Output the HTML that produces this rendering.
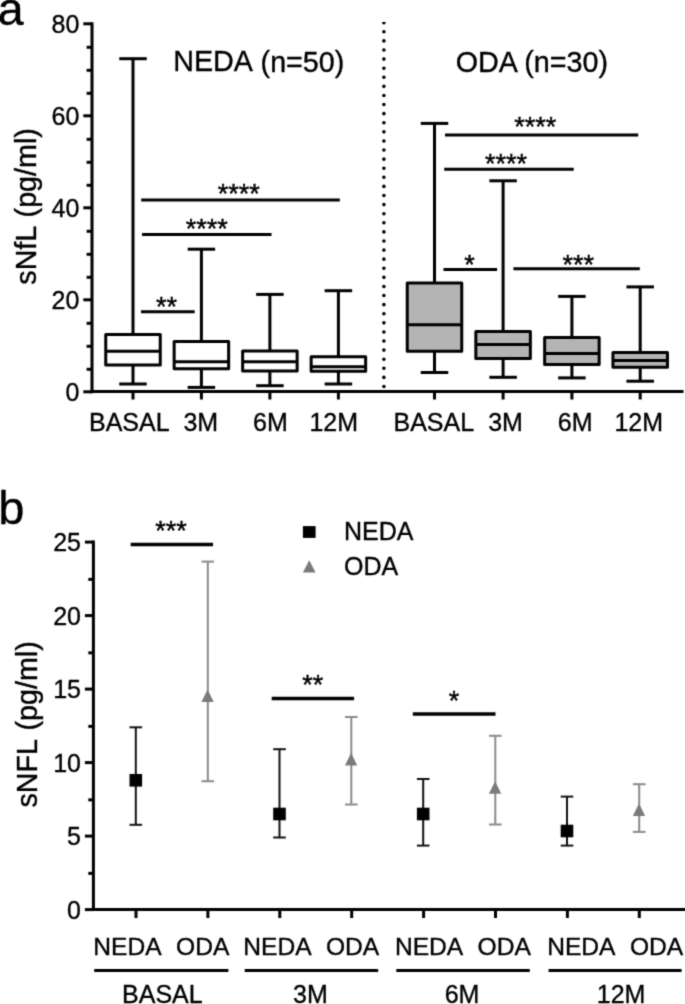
<!DOCTYPE html>
<html><head><meta charset="utf-8"><style>
html,body{margin:0;padding:0;background:#fff;width:685px;height:1004px;overflow:hidden}
svg{display:block;filter:grayscale(1)}
text{font-family:"Liberation Sans", sans-serif}
</style></head><body>
<svg width="685" height="1004" viewBox="0 0 685 1004">
<defs><filter id="cv" color-interpolation-filters="sRGB" x="0" y="0" width="100%" height="100%" filterUnits="userSpaceOnUse"><feConvolveMatrix order="3" kernelMatrix="0.06 0.2 0.06 0.2 1 0.2 0.06 0.2 0.06" divisor="2.04" edgeMode="duplicate"/></filter></defs><g filter="url(#cv)"><rect width="685" height="1004" fill="#fff"/><text x="-2.30" y="25.30" font-size="46.5" text-anchor="start" fill="#000" stroke="#000" stroke-width="0.35">a</text>
<line x1="92.00" y1="22.30" x2="92.00" y2="393.30" stroke="#000" stroke-width="3"/>
<line x1="83.30" y1="391.80" x2="92.00" y2="391.80" stroke="#000" stroke-width="3"/>
<text x="79.40" y="400.80" font-size="25" text-anchor="end" fill="#000" stroke="#000" stroke-width="0.35">0</text>
<line x1="86.60" y1="369.30" x2="92.00" y2="369.30" stroke="#000" stroke-width="3"/>
<line x1="86.60" y1="346.30" x2="92.00" y2="346.30" stroke="#000" stroke-width="3"/>
<line x1="86.60" y1="323.30" x2="92.00" y2="323.30" stroke="#000" stroke-width="3"/>
<line x1="83.30" y1="299.80" x2="92.00" y2="299.80" stroke="#000" stroke-width="3"/>
<text x="79.40" y="308.80" font-size="25" text-anchor="end" fill="#000" stroke="#000" stroke-width="0.35">20</text>
<line x1="86.60" y1="277.30" x2="92.00" y2="277.30" stroke="#000" stroke-width="3"/>
<line x1="86.60" y1="254.30" x2="92.00" y2="254.30" stroke="#000" stroke-width="3"/>
<line x1="86.60" y1="231.30" x2="92.00" y2="231.30" stroke="#000" stroke-width="3"/>
<line x1="83.30" y1="207.80" x2="92.00" y2="207.80" stroke="#000" stroke-width="3"/>
<text x="79.40" y="216.80" font-size="25" text-anchor="end" fill="#000" stroke="#000" stroke-width="0.35">40</text>
<line x1="86.60" y1="185.30" x2="92.00" y2="185.30" stroke="#000" stroke-width="3"/>
<line x1="86.60" y1="162.30" x2="92.00" y2="162.30" stroke="#000" stroke-width="3"/>
<line x1="86.60" y1="139.30" x2="92.00" y2="139.30" stroke="#000" stroke-width="3"/>
<line x1="83.30" y1="115.80" x2="92.00" y2="115.80" stroke="#000" stroke-width="3"/>
<text x="79.40" y="124.80" font-size="25" text-anchor="end" fill="#000" stroke="#000" stroke-width="0.35">60</text>
<line x1="86.60" y1="93.30" x2="92.00" y2="93.30" stroke="#000" stroke-width="3"/>
<line x1="86.60" y1="70.30" x2="92.00" y2="70.30" stroke="#000" stroke-width="3"/>
<line x1="86.60" y1="47.30" x2="92.00" y2="47.30" stroke="#000" stroke-width="3"/>
<line x1="83.30" y1="23.80" x2="92.00" y2="23.80" stroke="#000" stroke-width="3"/>
<text x="79.40" y="32.80" font-size="25" text-anchor="end" fill="#000" stroke="#000" stroke-width="0.35">80</text>
<line x1="90.50" y1="391.60" x2="683.50" y2="391.60" stroke="#000" stroke-width="3"/>
<line x1="133.00" y1="58.70" x2="133.00" y2="384.00" stroke="#000" stroke-width="3"/>
<line x1="119.25" y1="58.70" x2="146.75" y2="58.70" stroke="#000" stroke-width="3"/>
<line x1="119.25" y1="384.00" x2="146.75" y2="384.00" stroke="#000" stroke-width="3"/>
<rect x="105.75" y="334.6" width="54.5" height="30.30" fill="#fff" stroke="#000" stroke-width="3" stroke-linejoin="round"/>
<line x1="105.75" y1="351.30" x2="160.25" y2="351.30" stroke="#000" stroke-width="3"/>
<line x1="133.00" y1="391.60" x2="133.00" y2="399.50" stroke="#000" stroke-width="3"/>
<line x1="201.40" y1="249.20" x2="201.40" y2="387.40" stroke="#000" stroke-width="3"/>
<line x1="187.65" y1="249.20" x2="215.15" y2="249.20" stroke="#000" stroke-width="3"/>
<line x1="187.65" y1="387.40" x2="215.15" y2="387.40" stroke="#000" stroke-width="3"/>
<rect x="174.15" y="341.6" width="54.5" height="27.10" fill="#fff" stroke="#000" stroke-width="3" stroke-linejoin="round"/>
<line x1="174.15" y1="361.70" x2="228.65" y2="361.70" stroke="#000" stroke-width="3"/>
<line x1="201.40" y1="391.60" x2="201.40" y2="399.50" stroke="#000" stroke-width="3"/>
<line x1="269.90" y1="294.40" x2="269.90" y2="385.70" stroke="#000" stroke-width="3"/>
<line x1="256.15" y1="294.40" x2="283.65" y2="294.40" stroke="#000" stroke-width="3"/>
<line x1="256.15" y1="385.70" x2="283.65" y2="385.70" stroke="#000" stroke-width="3"/>
<rect x="242.65" y="351.1" width="54.5" height="20.00" fill="#fff" stroke="#000" stroke-width="3" stroke-linejoin="round"/>
<line x1="242.65" y1="361.70" x2="297.15" y2="361.70" stroke="#000" stroke-width="3"/>
<line x1="269.90" y1="391.60" x2="269.90" y2="399.50" stroke="#000" stroke-width="3"/>
<line x1="338.40" y1="290.70" x2="338.40" y2="384.00" stroke="#000" stroke-width="3"/>
<line x1="324.65" y1="290.70" x2="352.15" y2="290.70" stroke="#000" stroke-width="3"/>
<line x1="324.65" y1="384.00" x2="352.15" y2="384.00" stroke="#000" stroke-width="3"/>
<rect x="311.15" y="356.8" width="54.5" height="14.40" fill="#fff" stroke="#000" stroke-width="3" stroke-linejoin="round"/>
<line x1="311.15" y1="366.70" x2="365.65" y2="366.70" stroke="#000" stroke-width="3"/>
<line x1="338.40" y1="391.60" x2="338.40" y2="399.50" stroke="#000" stroke-width="3"/>
<line x1="434.50" y1="123.40" x2="434.50" y2="372.50" stroke="#000" stroke-width="3"/>
<line x1="420.75" y1="123.40" x2="448.25" y2="123.40" stroke="#000" stroke-width="3"/>
<line x1="420.75" y1="372.50" x2="448.25" y2="372.50" stroke="#000" stroke-width="3"/>
<rect x="407.25" y="282.9" width="54.5" height="68.30" fill="#b4b4b4" stroke="#000" stroke-width="3" stroke-linejoin="round"/>
<line x1="407.25" y1="324.80" x2="461.75" y2="324.80" stroke="#000" stroke-width="3"/>
<line x1="434.50" y1="391.60" x2="434.50" y2="399.50" stroke="#000" stroke-width="3"/>
<line x1="503.10" y1="180.80" x2="503.10" y2="377.30" stroke="#000" stroke-width="3"/>
<line x1="489.35" y1="180.80" x2="516.85" y2="180.80" stroke="#000" stroke-width="3"/>
<line x1="489.35" y1="377.30" x2="516.85" y2="377.30" stroke="#000" stroke-width="3"/>
<rect x="475.85" y="331.5" width="54.5" height="27.10" fill="#b4b4b4" stroke="#000" stroke-width="3" stroke-linejoin="round"/>
<line x1="475.85" y1="344.50" x2="530.35" y2="344.50" stroke="#000" stroke-width="3"/>
<line x1="503.10" y1="391.60" x2="503.10" y2="399.50" stroke="#000" stroke-width="3"/>
<line x1="571.90" y1="296.40" x2="571.90" y2="377.90" stroke="#000" stroke-width="3"/>
<line x1="558.15" y1="296.40" x2="585.65" y2="296.40" stroke="#000" stroke-width="3"/>
<line x1="558.15" y1="377.90" x2="585.65" y2="377.90" stroke="#000" stroke-width="3"/>
<rect x="544.65" y="337.6" width="54.5" height="26.90" fill="#b4b4b4" stroke="#000" stroke-width="3" stroke-linejoin="round"/>
<line x1="544.65" y1="353.60" x2="599.15" y2="353.60" stroke="#000" stroke-width="3"/>
<line x1="571.90" y1="391.60" x2="571.90" y2="399.50" stroke="#000" stroke-width="3"/>
<line x1="640.20" y1="286.90" x2="640.20" y2="381.20" stroke="#000" stroke-width="3"/>
<line x1="626.45" y1="286.90" x2="653.95" y2="286.90" stroke="#000" stroke-width="3"/>
<line x1="626.45" y1="381.20" x2="653.95" y2="381.20" stroke="#000" stroke-width="3"/>
<rect x="612.95" y="352.6" width="54.5" height="14.60" fill="#b4b4b4" stroke="#000" stroke-width="3" stroke-linejoin="round"/>
<line x1="612.95" y1="360.40" x2="667.45" y2="360.40" stroke="#000" stroke-width="3"/>
<line x1="640.20" y1="391.60" x2="640.20" y2="399.50" stroke="#000" stroke-width="3"/>
<text x="129.30" y="430.80" font-size="25" text-anchor="middle" fill="#000" stroke="#000" stroke-width="0.35">BASAL</text>
<text x="200.80" y="430.80" font-size="25" text-anchor="middle" fill="#000" stroke="#000" stroke-width="0.35">3M</text>
<text x="270.40" y="430.80" font-size="25" text-anchor="middle" fill="#000" stroke="#000" stroke-width="0.35">6M</text>
<text x="333.80" y="430.80" font-size="25" text-anchor="middle" fill="#000" stroke="#000" stroke-width="0.35">12M</text>
<text x="433.80" y="430.80" font-size="25" text-anchor="middle" fill="#000" stroke="#000" stroke-width="0.35">BASAL</text>
<text x="505.50" y="430.80" font-size="25" text-anchor="middle" fill="#000" stroke="#000" stroke-width="0.35">3M</text>
<text x="575.20" y="430.80" font-size="25" text-anchor="middle" fill="#000" stroke="#000" stroke-width="0.35">6M</text>
<text x="638.80" y="430.80" font-size="25" text-anchor="middle" fill="#000" stroke="#000" stroke-width="0.35">12M</text>
<clipPath id="cp"><rect x="370" y="22.0" width="30" height="370"/></clipPath>
<line x1="383.9" y1="22.7" x2="383.9" y2="388" stroke="#000" stroke-width="3.6" stroke-dasharray="0 9.095" stroke-linecap="round" clip-path="url(#cp)"/>
<text x="173.20" y="71.20" font-size="28.7" text-anchor="start" fill="#000" stroke="#000" stroke-width="0.35">NEDA</text>
<text x="260.60" y="71.60" font-size="28.7" text-anchor="start" fill="#000" stroke="#000" stroke-width="0.35">(n=50)</text>
<text x="455.80" y="72.00" font-size="28.7" text-anchor="start" fill="#000" stroke="#000" stroke-width="0.35">ODA</text>
<text x="524.30" y="72.00" font-size="28.7" text-anchor="start" fill="#000" stroke="#000" stroke-width="0.35">(n=30)</text>
<line x1="141.00" y1="311.70" x2="194.70" y2="311.70" stroke="#000" stroke-width="3"/>
<text x="166.40" y="315.80" font-size="27.0" text-anchor="middle" fill="#000" stroke="#000" stroke-width="0.4">**</text>
<line x1="142.00" y1="234.60" x2="271.50" y2="234.60" stroke="#000" stroke-width="3"/>
<text x="206.80" y="238.40" font-size="27.0" text-anchor="middle" fill="#000" stroke="#000" stroke-width="0.4">****</text>
<line x1="141.20" y1="199.90" x2="339.80" y2="199.90" stroke="#000" stroke-width="3"/>
<text x="238.80" y="203.10" font-size="27.0" text-anchor="middle" fill="#000" stroke="#000" stroke-width="0.4">****</text>
<line x1="445.00" y1="134.90" x2="638.20" y2="134.90" stroke="#000" stroke-width="3"/>
<text x="535.20" y="136.20" font-size="27.0" text-anchor="middle" fill="#000" stroke="#000" stroke-width="0.4">****</text>
<line x1="444.20" y1="169.20" x2="573.70" y2="169.20" stroke="#000" stroke-width="3"/>
<text x="506.00" y="173.20" font-size="27.0" text-anchor="middle" fill="#000" stroke="#000" stroke-width="0.4">****</text>
<line x1="443.50" y1="269.40" x2="497.10" y2="269.40" stroke="#000" stroke-width="3"/>
<text x="469.50" y="274.30" font-size="27.0" text-anchor="middle" fill="#000" stroke="#000" stroke-width="0.4">*</text>
<line x1="513.40" y1="268.70" x2="639.80" y2="268.70" stroke="#000" stroke-width="3"/>
<text x="578.20" y="273.60" font-size="27.0" text-anchor="middle" fill="#000" stroke="#000" stroke-width="0.4">***</text>
<g transform="translate(35.6,0) rotate(-90)">
<text x="-284.70" y="0.00" font-size="28.7" text-anchor="start" fill="#000" stroke="#000" stroke-width="0.35">sNfL</text>
<text x="-217.40" y="0.00" font-size="28.7" text-anchor="start" fill="#000" stroke="#000" stroke-width="0.35">(pg/ml)</text>
</g>
<text x="-1.80" y="524.40" font-size="47" text-anchor="start" fill="#000" stroke="#000" stroke-width="0.35">b</text>
<line x1="93.40" y1="540.60" x2="93.40" y2="911.10" stroke="#000" stroke-width="3"/>
<line x1="84.90" y1="909.60" x2="93.40" y2="909.60" stroke="#000" stroke-width="3"/>
<text x="81.00" y="918.60" font-size="25" text-anchor="end" fill="#000" stroke="#000" stroke-width="0.35">0</text>
<line x1="88.30" y1="873.35" x2="93.40" y2="873.35" stroke="#000" stroke-width="3"/>
<line x1="84.90" y1="836.10" x2="93.40" y2="836.10" stroke="#000" stroke-width="3"/>
<text x="81.00" y="845.10" font-size="25" text-anchor="end" fill="#000" stroke="#000" stroke-width="0.35">5</text>
<line x1="88.30" y1="799.85" x2="93.40" y2="799.85" stroke="#000" stroke-width="3"/>
<line x1="84.90" y1="762.60" x2="93.40" y2="762.60" stroke="#000" stroke-width="3"/>
<text x="81.00" y="771.60" font-size="25" text-anchor="end" fill="#000" stroke="#000" stroke-width="0.35">10</text>
<line x1="88.30" y1="726.35" x2="93.40" y2="726.35" stroke="#000" stroke-width="3"/>
<line x1="84.90" y1="689.10" x2="93.40" y2="689.10" stroke="#000" stroke-width="3"/>
<text x="81.00" y="698.10" font-size="25" text-anchor="end" fill="#000" stroke="#000" stroke-width="0.35">15</text>
<line x1="88.30" y1="652.85" x2="93.40" y2="652.85" stroke="#000" stroke-width="3"/>
<line x1="84.90" y1="615.60" x2="93.40" y2="615.60" stroke="#000" stroke-width="3"/>
<text x="81.00" y="624.60" font-size="25" text-anchor="end" fill="#000" stroke="#000" stroke-width="0.35">20</text>
<line x1="88.30" y1="579.35" x2="93.40" y2="579.35" stroke="#000" stroke-width="3"/>
<line x1="84.90" y1="542.10" x2="93.40" y2="542.10" stroke="#000" stroke-width="3"/>
<text x="81.00" y="551.10" font-size="25" text-anchor="end" fill="#000" stroke="#000" stroke-width="0.35">25</text>
<line x1="91.90" y1="909.50" x2="685.00" y2="909.50" stroke="#000" stroke-width="3"/>
<line x1="136.00" y1="909.50" x2="136.00" y2="918.00" stroke="#000" stroke-width="3"/>
<line x1="207.90" y1="909.50" x2="207.90" y2="918.00" stroke="#000" stroke-width="3"/>
<line x1="279.80" y1="909.50" x2="279.80" y2="918.00" stroke="#000" stroke-width="3"/>
<line x1="351.70" y1="909.50" x2="351.70" y2="918.00" stroke="#000" stroke-width="3"/>
<line x1="423.60" y1="909.50" x2="423.60" y2="918.00" stroke="#000" stroke-width="3"/>
<line x1="495.50" y1="909.50" x2="495.50" y2="918.00" stroke="#000" stroke-width="3"/>
<line x1="567.40" y1="909.50" x2="567.40" y2="918.00" stroke="#000" stroke-width="3"/>
<line x1="639.30" y1="909.50" x2="639.30" y2="918.00" stroke="#000" stroke-width="3"/>
<line x1="135.80" y1="727.30" x2="135.80" y2="824.80" stroke="#111" stroke-width="2.0"/>
<line x1="129.50" y1="727.30" x2="142.10" y2="727.30" stroke="#111" stroke-width="2.0"/>
<line x1="129.50" y1="824.80" x2="142.10" y2="824.80" stroke="#111" stroke-width="2.0"/>
<rect x="129.50" y="774.00" width="12.6" height="12.6" fill="#000"/>
<line x1="207.80" y1="561.60" x2="207.80" y2="781.20" stroke="#8a8a8a" stroke-width="2.0"/>
<line x1="201.50" y1="561.60" x2="214.10" y2="561.60" stroke="#8a8a8a" stroke-width="2.0"/>
<line x1="201.50" y1="781.20" x2="214.10" y2="781.20" stroke="#8a8a8a" stroke-width="2.0"/>
<polygon points="207.60,689.60 213.75,702.00 201.45,702.00" fill="#7a7a7a"/>
<line x1="279.50" y1="749.20" x2="279.50" y2="837.50" stroke="#111" stroke-width="2.0"/>
<line x1="273.20" y1="749.20" x2="285.80" y2="749.20" stroke="#111" stroke-width="2.0"/>
<line x1="273.20" y1="837.50" x2="285.80" y2="837.50" stroke="#111" stroke-width="2.0"/>
<rect x="273.20" y="807.70" width="12.6" height="12.6" fill="#000"/>
<line x1="351.30" y1="717.00" x2="351.30" y2="804.50" stroke="#8a8a8a" stroke-width="2.0"/>
<line x1="345.00" y1="717.00" x2="357.60" y2="717.00" stroke="#8a8a8a" stroke-width="2.0"/>
<line x1="345.00" y1="804.50" x2="357.60" y2="804.50" stroke="#8a8a8a" stroke-width="2.0"/>
<polygon points="351.10,753.10 357.25,765.50 344.95,765.50" fill="#7a7a7a"/>
<line x1="423.20" y1="779.00" x2="423.20" y2="845.60" stroke="#111" stroke-width="2.0"/>
<line x1="416.90" y1="779.00" x2="429.50" y2="779.00" stroke="#111" stroke-width="2.0"/>
<line x1="416.90" y1="845.60" x2="429.50" y2="845.60" stroke="#111" stroke-width="2.0"/>
<rect x="416.90" y="807.70" width="12.6" height="12.6" fill="#000"/>
<line x1="495.30" y1="735.80" x2="495.30" y2="824.50" stroke="#8a8a8a" stroke-width="2.0"/>
<line x1="489.00" y1="735.80" x2="501.60" y2="735.80" stroke="#8a8a8a" stroke-width="2.0"/>
<line x1="489.00" y1="824.50" x2="501.60" y2="824.50" stroke="#8a8a8a" stroke-width="2.0"/>
<polygon points="495.10,781.30 501.25,793.70 488.95,793.70" fill="#7a7a7a"/>
<line x1="567.00" y1="796.60" x2="567.00" y2="845.60" stroke="#111" stroke-width="2.0"/>
<line x1="560.70" y1="796.60" x2="573.30" y2="796.60" stroke="#111" stroke-width="2.0"/>
<line x1="560.70" y1="845.60" x2="573.30" y2="845.60" stroke="#111" stroke-width="2.0"/>
<rect x="560.70" y="824.70" width="12.6" height="12.6" fill="#000"/>
<line x1="639.20" y1="784.20" x2="639.20" y2="831.90" stroke="#8a8a8a" stroke-width="2.0"/>
<line x1="632.90" y1="784.20" x2="645.50" y2="784.20" stroke="#8a8a8a" stroke-width="2.0"/>
<line x1="632.90" y1="831.90" x2="645.50" y2="831.90" stroke="#8a8a8a" stroke-width="2.0"/>
<polygon points="639.00,803.50 645.15,815.90 632.85,815.90" fill="#7a7a7a"/>
<line x1="130.70" y1="544.50" x2="213.00" y2="544.50" stroke="#000" stroke-width="3.5"/>
<text x="171.00" y="539.85" font-size="27.0" text-anchor="middle" fill="#000" stroke="#000" stroke-width="0.4">***</text>
<line x1="271.70" y1="698.50" x2="354.10" y2="698.50" stroke="#000" stroke-width="3.5"/>
<text x="312.80" y="694.35" font-size="27.0" text-anchor="middle" fill="#000" stroke="#000" stroke-width="0.4">**</text>
<line x1="412.80" y1="714.00" x2="495.50" y2="714.00" stroke="#000" stroke-width="3.5"/>
<text x="454.00" y="709.90" font-size="27.0" text-anchor="middle" fill="#000" stroke="#000" stroke-width="0.4">*</text>
<rect x="302.9" y="526.1" width="12.7" height="11.8" fill="#000"/>
<polygon points="309.25,560.3 315.6,572.6 302.9,572.6" fill="#7a7a7a"/>
<text x="344.00" y="540.40" font-size="25" text-anchor="start" fill="#000" stroke="#000" stroke-width="0.35">NEDA</text>
<text x="344.00" y="574.50" font-size="25" text-anchor="start" fill="#000" stroke="#000" stroke-width="0.35">ODA</text>
<text x="93.30" y="954.80" font-size="24.6" text-anchor="start" fill="#000" stroke="#000" stroke-width="0.35">NEDA</text>
<text x="176.10" y="954.80" font-size="24.6" text-anchor="start" fill="#000" stroke="#000" stroke-width="0.35">ODA</text>
<text x="243.30" y="954.80" font-size="24.6" text-anchor="start" fill="#000" stroke="#000" stroke-width="0.35">NEDA</text>
<text x="325.90" y="954.80" font-size="24.6" text-anchor="start" fill="#000" stroke="#000" stroke-width="0.35">ODA</text>
<text x="394.90" y="954.80" font-size="24.6" text-anchor="start" fill="#000" stroke="#000" stroke-width="0.35">NEDA</text>
<text x="477.50" y="954.80" font-size="24.6" text-anchor="start" fill="#000" stroke="#000" stroke-width="0.35">ODA</text>
<text x="547.20" y="954.80" font-size="24.6" text-anchor="start" fill="#000" stroke="#000" stroke-width="0.35">NEDA</text>
<text x="629.90" y="954.80" font-size="24.6" text-anchor="start" fill="#000" stroke="#000" stroke-width="0.35">ODA</text>
<line x1="94.20" y1="970.50" x2="228.40" y2="970.50" stroke="#000" stroke-width="3"/>
<line x1="244.70" y1="970.50" x2="378.20" y2="970.50" stroke="#000" stroke-width="3"/>
<line x1="396.30" y1="970.50" x2="529.80" y2="970.50" stroke="#000" stroke-width="3"/>
<line x1="548.60" y1="970.50" x2="681.60" y2="970.50" stroke="#000" stroke-width="3"/>
<text x="162.40" y="1002.90" font-size="25" text-anchor="middle" fill="#000" stroke="#000" stroke-width="0.35">BASAL</text>
<text x="310.40" y="1002.90" font-size="25" text-anchor="middle" fill="#000" stroke="#000" stroke-width="0.35">3M</text>
<text x="462.00" y="1002.90" font-size="25" text-anchor="middle" fill="#000" stroke="#000" stroke-width="0.35">6M</text>
<text x="621.10" y="1002.90" font-size="25" text-anchor="middle" fill="#000" stroke="#000" stroke-width="0.35">12M</text>
<g transform="translate(36.6,0) rotate(-90)">
<text x="-807.60" y="0.00" font-size="28.7" text-anchor="start" fill="#000" stroke="#000" stroke-width="0.35">sNFL</text>
<text x="-730.50" y="0.00" font-size="28.7" text-anchor="start" fill="#000" stroke="#000" stroke-width="0.35">(pg/ml)</text>
</g></g>
</svg>
</body></html>
